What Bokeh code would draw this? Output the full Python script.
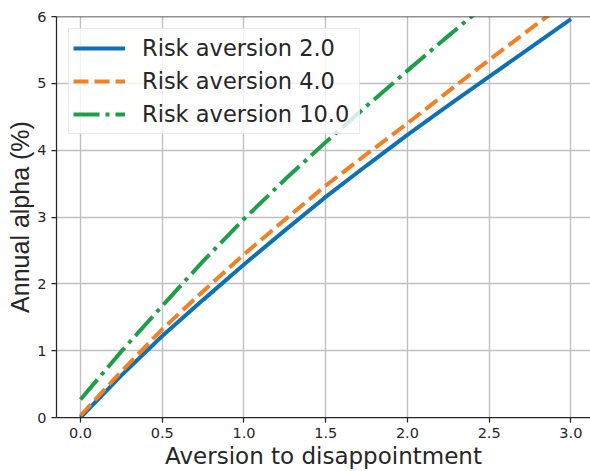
from bokeh.plotting import figure
from bokeh.models import Legend, LegendItem, Span, FixedTicker, Range1d
from bokeh.embed import file_html
from bokeh.resources import INLINE

x_vals = [0.0, 0.25, 0.5, 0.75, 1.0, 1.25, 1.5, 1.75, 2.0, 2.25, 2.5, 2.75, 3.0]
ra2 = [0.0, 0.63, 1.22, 1.76, 2.29, 2.8, 3.3, 3.77, 4.23, 4.67, 5.1, 5.53, 5.96]
ra4 = [0.03, 0.69, 1.32, 1.89, 2.44, 2.96, 3.47, 3.94, 4.40, 4.88, 5.35, 5.81, 6.27]
x_g = [0.0, 0.25, 0.5, 0.75, 1.0, 1.25, 1.5, 1.75, 2.0, 2.25, 2.5]
ra10 = [0.27, 0.99, 1.67, 2.34, 2.97, 3.56, 4.12, 4.66, 5.19, 5.71, 6.22]
labels = ["Risk aversion 2.0", "Risk aversion 4.0", "Risk aversion 10.0"]
x_ticks = [0.0, 0.5, 1.0, 1.5, 2.0, 2.5, 3.0]
y_ticks = [0, 1, 2, 3, 4, 5, 6]

TXT = "#262626"
p = figure(width=590, height=471, output_backend="svg", toolbar_location=None,
           x_range=Range1d(-0.147, 3.12), y_range=Range1d(0, 6),
           min_border_left=56, min_border_top=16, min_border_right=0, min_border_bottom=53)
p.outline_line_color = None
p.background_fill_color = "white"

l1 = p.line(x_vals, ra2, line_color="#0c71b5", line_width=4)
l2 = p.line(x_vals, ra4, line_color="#f28125", line_width=4, line_dash="15 6")
l3 = p.line(x_g, ra10, line_color="#1f9e48", line_width=4, line_dash="26 6 4 6")

for ax in (p.xaxis[0], p.yaxis[0]):
    ax.axis_line_color = TXT
    ax.axis_line_width = 1.25
    ax.major_tick_line_color = TXT
    ax.major_tick_line_width = 1.25
    ax.major_tick_out = 5
    ax.major_tick_in = 0
    ax.minor_tick_line_color = None
    ax.major_label_text_font = "DejaVu Sans"
    ax.major_label_text_font_size = "14.5px"
    ax.major_label_text_color = TXT
    ax.axis_label_text_color = TXT
    ax.axis_label_text_font_style = "normal"

p.xaxis.ticker = FixedTicker(ticks=x_ticks)
p.yaxis.ticker = FixedTicker(ticks=y_ticks)
p.xaxis.major_label_overrides = {t: f"{t:.1f}" for t in x_ticks}
p.xaxis.major_label_standoff = 5
p.yaxis.major_label_standoff = 5
p.xaxis.axis_label = "Aversion to disappointment"
p.xaxis.axis_label_text_font = "DejaVu Sans"
p.xaxis.axis_label_text_font_size = "23px"
p.xaxis.axis_label_standoff = 2
p.yaxis.axis_label = "Annual alpha (%)"
p.yaxis.axis_label_text_font = "Liberation Sans"
p.yaxis.axis_label_text_font_size = "25px"
p.yaxis.axis_label_standoff = 0

p.grid.grid_line_color = "#bfbfc4"
p.grid.grid_line_width = 1.4

top = Span(location=6, dimension="width", line_color=TXT, line_width=1.25)
p.add_layout(top)

legend = Legend(items=[LegendItem(label=labels[0], renderers=[l1]),
                       LegendItem(label=labels[1], renderers=[l2]),
                       LegendItem(label=labels[2], renderers=[l3])],
                location="top_left", margin=12, padding=4, spacing=3,
                glyph_width=52, glyph_height=30, label_standoff=17,
                label_width=213, label_height=30,
                label_text_font="DejaVu Sans", label_text_font_size="22.5px",
                label_text_color=TXT, border_line_color="#d6d6d6",
                border_line_width=1.2, background_fill_alpha=0.8)
p.add_layout(legend)

open("out.html", "w").write(file_html(p, INLINE))
